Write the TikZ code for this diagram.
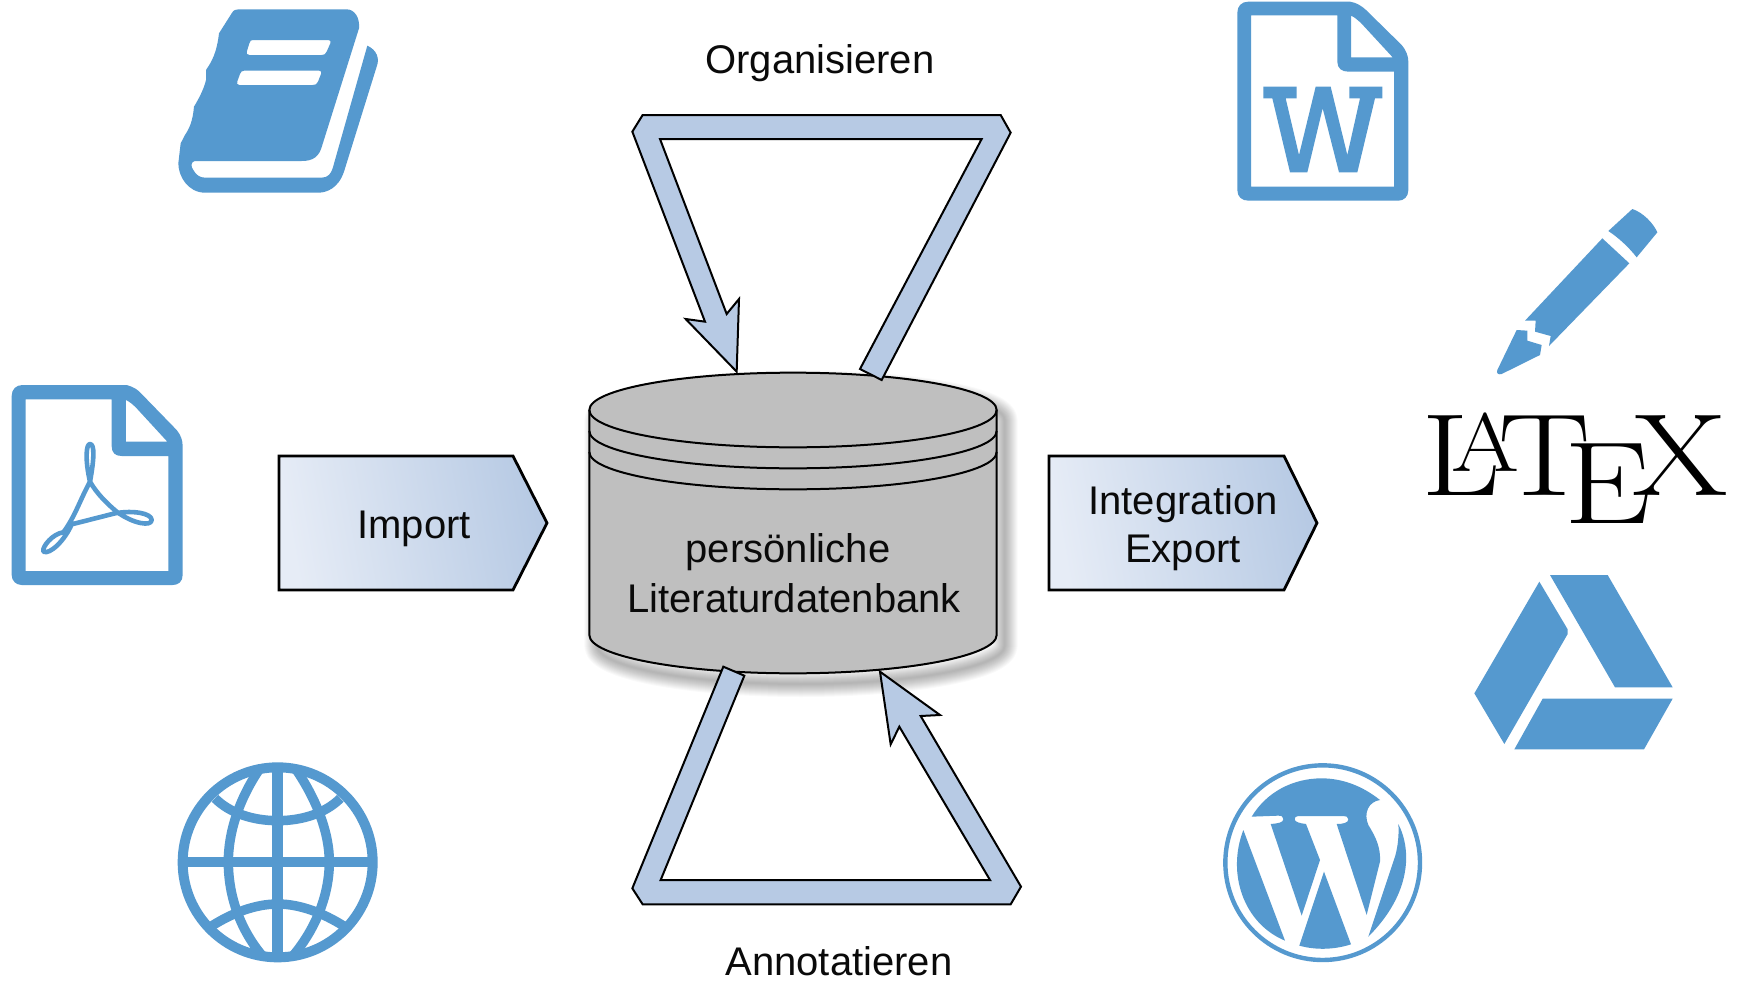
\documentclass[tikz,border=0pt]{standalone}
\usepackage{fontspec}
\setsansfont{Liberation Sans}
\definecolor{iconblue}{RGB}{85,153,207}
\definecolor{loopblue}{RGB}{183,202,228}
\definecolor{cylgray}{RGB}{191,191,191}
\definecolor{gradL}{RGB}{230,236,246}
\definecolor{gradR}{RGB}{183,202,228}
\tikzset{
  zm/.style 2 args={shift={(#1,#2)},scale=1/3},
  icon/.style={fill=iconblue,draw=none,even odd rule},
  iconline/.style={draw=iconblue,fill=none,line width=#1,line cap=round,line join=round},
  loopshape/.style={fill=loopblue,draw=black,line width=2pt,line join=miter},
  pent/.style={left color=gradL,right color=gradR,shading angle=100,draw=black,line width=2.8pt,line join=miter},
  lab/.style={font=\sffamily\fontsize{40}{48}\selectfont,inner sep=0pt,anchor=base,text=black!96},
  cylline/.style={draw=black,line width=2pt}
}
\begin{document}
\begin{tikzpicture}[x=1pt,y=-1pt]
\fill[white] (0,0) rectangle (1743,980);
\useasboundingbox (0,0) rectangle (1743,980);

% book
\begin{scope}[zm={150}{0}]
\path[icon] (265,28) -- (590,28) .. controls (615,28) and (630,55) .. (627,85)
  -- (517,435) .. controls (508,470) and (490,483) .. (455,483) -- (135,483)
  .. controls (122,485) and (122,500) .. (130,510) .. controls (138,525) and (150,533) .. (165,533)
  -- (515,533) .. controls (535,533) and (543,520) .. (548,505) -- (652,137)
  .. controls (680,150) and (690,175) .. (680,200) -- (582,515) .. controls (565,565) and (530,578) .. (505,578)
  -- (165,578) .. controls (115,578) and (85,530) .. (85,490) -- (92,430) -- (105,405) .. controls (118,385) and (128,365) .. (132,320)
  .. controls (150,290) and (162,265) .. (168,240) -- (168,210) .. controls (185,185) and (200,160) .. (207,100) -- (245,40) .. controls (250,30) and (258,28) .. (265,28) -- cycle
  (308,120) -- (535,120) .. controls (542,120) and (543,124) .. (541,130) -- (530,155) .. controls (527,163) and (522,165) .. (515,165)
  -- (298,165) .. controls (290,165) and (289,160) .. (291,153) -- (298,130) .. controls (300,123) and (303,120) .. (308,120) -- cycle
  (282,212) -- (508,212) .. controls (514,212) and (515,216) .. (513,222) -- (504,245) .. controls (501,253) and (496,255) .. (488,255)
  -- (268,255) .. controls (261,255) and (260,250) .. (262,244) -- (270,222) .. controls (273,215) and (276,212) .. (282,212) -- cycle;
\end{scope}

% PDF document
\begin{scope}[zm={0}{370}]
\path[icon] (35,78) .. controls (35,58) and (48,45) .. (68,45) -- (380,45) .. controls (400,50) and (415,60) .. (425,72)
  -- (530,180) .. controls (542,195) and (548,210) .. (548,228) -- (548,615) .. controls (548,635) and (535,645) .. (518,645)
  -- (65,645) .. controls (48,645) and (35,632) .. (35,615) -- cycle
  (77,88) -- (335,88) -- (335,228) .. controls (335,248) and (345,258) .. (365,258) -- (505,258) -- (505,603) -- (77,603) -- cycle
  (378,90) .. controls (392,97) and (400,105) .. (410,115) -- (502,215) -- (378,215) -- cycle;
\draw[iconline=4.6pt] (270,335) .. controls (240,390) and (225,440) .. (190,487)
  .. controls (160,490) and (125,530) .. (130,545) .. controls (150,555) and (195,510) .. (215,463)
  -- (345,430) .. controls (400,420) and (455,430) .. (455,450) .. controls (455,470) and (400,462) .. (350,425)
  .. controls (320,400) and (290,370) .. (270,335) .. controls (255,270) and (258,222) .. (270,222)
  .. controls (285,222) and (282,270) .. (270,335);
\end{scope}

% globe
\begin{scope}[zm={160}{750}]
\draw[iconline=10pt] (353,337) circle[radius=285];
\draw[iconline=11pt,line cap=butt] (353,45) -- (353,630);
\draw[iconline=9.5pt,line cap=butt] (70,336) -- (635,336);
\draw[iconline=9.5pt,line cap=butt] (300,55) .. controls (235,150) and (205,250) .. (205,335) .. controls (205,430) and (235,530) .. (305,615);
\draw[iconline=9.5pt,line cap=butt] (406,55) .. controls (471,150) and (508,250) .. (508,335) .. controls (508,430) and (471,530) .. (401,615);
\draw[iconline=9.5pt,line cap=butt] (165,145) .. controls (210,190) and (280,212) .. (353,212) .. controls (426,212) and (496,190) .. (541,145);
\draw[iconline=9.5pt,line cap=butt] (155,528) .. controls (215,490) and (285,462) .. (353,462) .. controls (421,462) and (491,490) .. (551,528);
\end{scope}

% WordPress
\begin{scope}[zm={1220}{750}]
\draw[iconline=4.4pt] (308,338) circle[radius=292];
\path[icon] (95,200) .. controls (140,125) and (220,85) .. (305,85) .. controls (370,85) and (430,110) .. (480,150)
  .. controls (445,155) and (430,190) .. (445,225) .. controls (470,265) and (482,295) .. (480,335)
  -- (440,495) -- (350,222) .. controls (370,222) and (385,218) .. (385,208) .. controls (385,200) and (378,198) .. (370,198)
  -- (235,198) .. controls (226,198) and (224,203) .. (224,208) .. controls (224,216) and (240,220) .. (258,222)
  -- (300,330) -- (245,497) -- (152,222) .. controls (175,220) and (190,218) .. (190,207) .. controls (190,200) and (185,197) .. (175,197) -- cycle;
\path[icon] (535,222) .. controls (575,300) and (575,430) .. (445,560) -- (525,320) .. controls (535,285) and (537,250) .. (535,222) -- cycle;
\path[icon] (238,587) -- (312,365) -- (393,583) .. controls (340,600) and (285,600) .. (238,587) -- cycle;
\path[icon] (70,240) -- (195,572) .. controls (70,520) and (20,370) .. (70,240) -- cycle;
\end{scope}

% Word document
\begin{scope}[zm={1220}{0}]
\path[icon] (52,38) .. controls (52,18) and (65,5) .. (85,5) -- (390,5) .. controls (410,8) and (425,18) .. (438,30)
  -- (545,135) .. controls (558,150) and (565,168) .. (565,185) -- (565,570) .. controls (565,590) and (552,602) .. (535,602)
  -- (85,602) .. controls (65,602) and (52,590) .. (52,570) -- cycle
  (93,46) -- (352,46) -- (352,185) .. controls (352,205) and (365,215) .. (385,215) -- (522,215) -- (522,560) -- (93,560) -- cycle
  (393,47) .. controls (405,52) and (412,60) .. (422,68) -- (518,172) -- (393,172) -- cycle;
\path[icon] (130,260) -- (230,260) -- (230,295) -- (197,295) -- (237,465) -- (287,260) -- (332,260) -- (382,465) -- (420,295)
  -- (388,295) -- (388,260) -- (487,260) -- (487,295) -- (465,295) -- (412,517) -- (357,517) -- (308,325) -- (262,517)
  -- (210,517) -- (157,295) -- (130,295) -- cycle;
\end{scope}

% pencil
\begin{scope}[zm={1420}{200}]
\path[icon] (565,93) -- (637,27) .. controls (670,38) and (700,70) .. (712,97) -- (650,172) .. controls (625,140) and (595,113) .. (565,93) -- cycle;
\path[icon] (547,115) -- (628,190) -- (387,438) -- (392,408) -- (345,395) -- (347,362) -- (315,362) -- cycle;
\path[icon] (290,390) -- (322,392) -- (322,422) -- (365,435) -- (360,465) -- (245,522) .. controls (235,525) and (228,520) .. (232,510) -- cycle;
\end{scope}

% Drive
\begin{scope}[zm={1460}{560}]
\path[icon] (238,65) -- (323,208) -- (323,222) -- (133,552) -- (43,400) -- cycle;
\path[icon] (270,45) -- (443,45) -- (638,382) -- (465,382) -- cycle;
\path[icon] (248,416) -- (638,416) -- (552,568) -- (163,568) -- cycle;
\end{scope}

% LaTeX logo
\node[inner sep=0pt,anchor=base west] (logo) at (1421,495) {\scalebox{1.18}[1]{\rmfamily\addfontfeature{FakeBold=2.5}\fontsize{117}{120}\selectfont L\kern-0.36em\raisebox{0.205em}{\fontsize{83}{90}\selectfont A}\kern-0.15em T\kern-0.185em\raisebox{-0.24em}{E}\kern-0.135em X}};

% block arrows
\path[pent] (279,456) -- (513,456) -- (547,523) -- (513,590) -- (279,590) -- cycle;
\path[pent] (1049,456) -- (1284,456) -- (1317,523) -- (1284,590) -- (1049,590) -- cycle;
\node[lab] (imp) at (414,538) {Import};
\node[lab] (integ) at (1183,514) {Integration};
\node[lab] (expo) at (1183,562) {Export};

% cylinder
\begin{scope}[zm={580}{360}]
\def\cylpath{(28,150) .. controls (28,88) and (302,38) .. (639,38) .. controls (976,38) and (1250,88) .. (1250,150) -- (1250,825) .. controls (1250,888) and (976,940) .. (639,940) .. controls (302,940) and (28,888) .. (28,825) -- cycle}
\foreach \w in {26,24,...,2}{
  \draw[black,opacity=0.025,line width=\w pt,line join=round,shift={(24,32)}] \cylpath;
}
\path[fill=cylgray,cylline] \cylpath;
\draw[cylline] (28,150) .. controls (28,212) and (302,262) .. (639,262) .. controls (976,262) and (1250,212) .. (1250,150);
\draw[cylline] (28,213) .. controls (28,275) and (302,325) .. (639,325) .. controls (976,325) and (1250,275) .. (1250,213);
\draw[cylline] (28,276) .. controls (28,338) and (302,388) .. (639,388) .. controls (976,388) and (1250,338) .. (1250,276);
\end{scope}
\node[lab] (pers) at (788,562) {persönliche};
\node[lab] (lit) at (794,612) {Literaturdatenbank};

% loops
\begin{scope}[zm={620}{90}]
\path[loopshape] (68,75) -- (1142,75) -- (1172,128) -- (785,870) -- (720,837) -- (1085,147) -- (120,147) -- (320,672) -- (357,627) -- (350,845) -- (197,687) -- (255,695) -- (37,125) -- cycle;
\end{scope}
\begin{scope}[zm={620}{660}]
\path[loopshape] (310,20) -- (373,47) -- (122,660) -- (1110,660) -- (838,200) -- (812,253) -- (780,35) -- (960,165) -- (902,168) -- (1203,680) -- (1172,733) -- (68,733) -- (37,685) -- cycle;
\end{scope}
\node[lab] (org) at (820,73) {Organisieren};
\node[lab] (ann) at (839,975) {Annotatieren};
\end{tikzpicture}
\end{document}
